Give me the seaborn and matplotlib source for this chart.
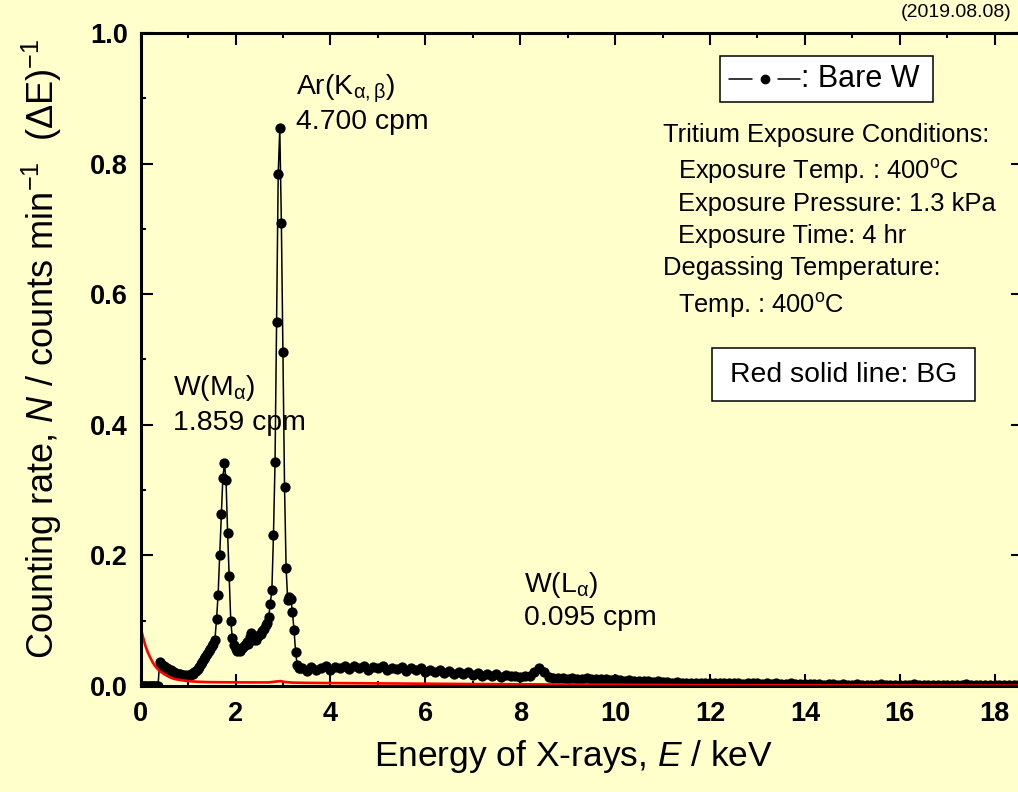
import numpy as np
import pandas as pd
import matplotlib
matplotlib.use("Agg")
import matplotlib.pyplot as plt
from matplotlib.lines import Line2D
from matplotlib.patches import Rectangle
from matplotlib.ticker import MultipleLocator, FormatStrFormatter
import seaborn as sns

# ---- Bare W spectrum: fine channels (1/30 keV) from 0 keV across the W(M) and Ar(K) peaks
low_start_kev = 0.0
low_step_kev = 1.0 / 30.0
low_counts = [
    0, 0, 0, 0, 0, 0, 0, 0, 0, 0, 0, 0,
    0.036, 0.033, 0.031, 0.030, 0.028, 0.027, 0.025, 0.024, 0.022, 0.021,
    0.020, 0.019, 0.018, 0.018, 0.017, 0.017, 0.016, 0.017, 0.016, 0.017,
    0.018, 0.019, 0.021, 0.023, 0.026, 0.029, 0.033, 0.037, 0.041, 0.045,
    0.049, 0.053, 0.057, 0.061, 0.065, 0.071, 0.102, 0.140, 0.201, 0.263,
    0.319, 0.341, 0.316, 0.235, 0.168, 0.100, 0.073, 0.063, 0.057, 0.054,
    0.056, 0.053, 0.058, 0.060, 0.063, 0.068, 0.064, 0.075, 0.081, 0.071,
    0.073, 0.070, 0.076, 0.078, 0.080, 0.084, 0.088, 0.093, 0.097, 0.106,
    0.126, 0.147, 0.231, 0.343, 0.557, 0.784, 0.854, 0.709, 0.511, 0.305,
    0.180, 0.132, 0.136, 0.133, 0.113, 0.086, 0.052, 0.032, 0.028, 0.027,
]

# ---- Bare W spectrum: 0.1 keV channels from 3.4 keV up to the end of the range
tail_start_kev = 3.4
tail_step_kev = 0.1
tail_counts = [
    0.028, 0.023, 0.029, 0.024, 0.027, 0.030,
    0.025, 0.029, 0.027, 0.031, 0.026, 0.030, 0.028, 0.031, 0.025, 0.029,
    0.027, 0.030, 0.024, 0.028, 0.026, 0.029, 0.023, 0.027, 0.025, 0.028,
    0.022, 0.025, 0.021, 0.024, 0.020, 0.023, 0.019, 0.022, 0.018, 0.021,
    0.017, 0.020, 0.016, 0.019, 0.015, 0.018, 0.014, 0.017, 0.015, 0.016,
    0.014, 0.015, 0.016, 0.021, 0.027, 0.021, 0.014, 0.012, 0.013, 0.012,
    0.011, 0.012, 0.011, 0.011, 0.012, 0.010, 0.011, 0.010, 0.010, 0.009,
    0.010, 0.009, 0.008, 0.009, 0.008, 0.007, 0.008, 0.007, 0.006, 0.007,
    0.006, 0.006, 0.005, 0.006, 0.005, 0.005, 0.005, 0.004, 0.005, 0.004,
    0.005, 0.004, 0.004, 0.005, 0.004, 0.004, 0.004, 0.003, 0.004, 0.004,
    0.004, 0.003, 0.004, 0.003, 0.004, 0.003, 0.003, 0.004, 0.003, 0.003,
    0.003, 0.003, 0.003, 0.003, 0.002, 0.003, 0.003, 0.002, 0.003, 0.002,
    0.002, 0.003, 0.002, 0.002, 0.002, 0.002, 0.003, 0.002, 0.002, 0.002,
    0.002, 0.002, 0.002, 0.003, 0.002, 0.002, 0.002, 0.002, 0.002, 0.002,
    0.002, 0.002, 0.002, 0.002, 0.003, 0.002, 0.002, 0.002, 0.002, 0.002,
    0.002, 0.002, 0.002, 0.002, 0.002, 0.002, 0.002,
]

# ---- Background (BG) spectrum
bg_energy_kev = [0.0, 0.05, 0.1, 0.15, 0.2, 0.25, 0.3, 0.35, 0.4, 0.5, 0.6,
                 0.7, 0.8, 0.9, 1.0, 1.2, 1.4, 1.6, 2.0, 2.4, 2.7, 2.85,
                 2.95, 3.05, 3.2, 3.5, 4.0, 5.0, 6.0, 7.0, 8.0, 9.0, 10.0,
                 11.0, 12.0, 13.0, 14.0, 15.0, 16.0, 17.0, 18.0, 18.6]
bg_counts = [0.089, 0.075, 0.062, 0.052, 0.044, 0.037, 0.031, 0.027, 0.023,
             0.018, 0.014, 0.011, 0.0095, 0.0085, 0.0075, 0.0065, 0.006,
             0.0058, 0.0056, 0.0055, 0.0055, 0.0068, 0.0075, 0.006, 0.0052,
             0.0048, 0.0045, 0.004, 0.0035, 0.003, 0.0026, 0.0022, 0.0019,
             0.0016, 0.0013, 0.0011, 0.001, 0.0009, 0.0008, 0.0007, 0.0006,
             0.0005]

# Annotation and axis texts
peak_labels = [
    (3.27, 0.915, r"Ar(K$_{\mathrm{\alpha,\beta}}$)"),
    (3.27, 0.864, "4.700 cpm"),
    (0.69, 0.456, r"W(M$_{\mathrm{\alpha}}$)"),
    (0.69, 0.402, "1.859 cpm"),
    (8.08, 0.155, r"W(L$_{\mathrm{\alpha}}$)"),
    (8.08, 0.104, "0.095 cpm"),
]
condition_lines = [
    (663, 135, "Tritium Exposure Conditions:"),
    (678, 172, r"Exposure Temp. : 400$^{\mathrm{o}}$C"),
    (678, 204, "Exposure Pressure: 1.3 kPa"),
    (678, 236.5, "Exposure Time: 4 hr"),
    (663, 268.5, "Degassing Temperature:"),
    (678, 305, r"Temp. : 400$^{\mathrm{o}}$C"),
]
x_label = r"Energy of X-rays, $\mathit{E}$ / keV"
y_label = r"Counting rate, $\mathit{N}$ / counts min$^{-1}$  (ΔE)$^{-1}$"
date_text = "(2019.08.08)"
sample_text = ": Bare W"
bg_text = "Red solid line: BG"

# ---- Tables for seaborn
low_energy = low_start_kev + low_step_kev * np.arange(len(low_counts))
tail_energy = tail_start_kev + tail_step_kev * np.arange(len(tail_counts))
spec = pd.DataFrame({
    "energy": np.concatenate([low_energy, tail_energy]),
    "counts": np.concatenate([low_counts, tail_counts]),
})
bg = pd.DataFrame({"energy": bg_energy_kev, "counts": bg_counts})

# ---- Style
sns.set_style("ticks")
BG_COLOR = "#FFFFCC"
plt.rcParams["font.family"] = ["Liberation Sans", "DejaVu Sans"]
plt.rcParams["mathtext.fontset"] = "custom"
plt.rcParams["mathtext.rm"] = "Liberation Sans"
plt.rcParams["mathtext.it"] = "Liberation Sans:italic"
plt.rcParams["mathtext.bf"] = "Liberation Sans:bold"
for key in ["text.color", "axes.labelcolor", "xtick.color", "ytick.color",
            "axes.edgecolor"]:
    plt.rcParams[key] = "black"

W, H = 1018, 792
fig = plt.figure(figsize=(W / 100, H / 100), dpi=100, facecolor=BG_COLOR)
x0_px, x1_px, y_top_px, y_bot_px = 140.6, 1023.2, 33.0, 686.0
ax = fig.add_axes([x0_px / W, 1 - y_bot_px / H, (x1_px - x0_px) / W,
                   (y_bot_px - y_top_px) / H])
ax.set_facecolor(BG_COLOR)

sns.lineplot(data=spec, x="energy", y="counts", ax=ax, color="black",
             linewidth=1.1, marker="o", markersize=7.4, markeredgewidth=0,
             estimator=None, sort=False, zorder=2)
sns.lineplot(data=bg, x="energy", y="counts", ax=ax, color="#FF0000",
             linewidth=1.9, estimator=None, sort=False, zorder=3)

ax.set_xlim(0, 18.6)
ax.set_ylim(0, 1.0)
ax.xaxis.set_major_locator(MultipleLocator(2))
ax.xaxis.set_minor_locator(MultipleLocator(1))
ax.yaxis.set_major_locator(MultipleLocator(0.2))
ax.yaxis.set_minor_locator(MultipleLocator(0.1))
ax.yaxis.set_major_formatter(FormatStrFormatter("%.1f"))
ax.tick_params(which="both", direction="in", top=True, right=True,
               width=1.5, color="black", labelcolor="black")
ax.tick_params(which="major", length=8.6)
ax.tick_params(which="minor", length=3.6)
ax.tick_params(axis="x", which="major", pad=11, labelsize=19.5)
ax.tick_params(axis="y", which="major", pad=9, labelsize=19.5)
for lab in ax.get_xticklabels() + ax.get_yticklabels():
    lab.set_fontweight("bold")
for sp in ax.spines.values():
    sp.set_linewidth(2.2)
    sp.set_color("black")
    sp.set_zorder(4)

ax.set_xlabel(x_label, fontsize=25.5, color="black")
ax.set_ylabel(y_label, fontsize=26, color="black")
ax.xaxis.set_label_coords(0.491, -0.080)
ax.yaxis.set_label_coords(-0.087, 0.516)

for ex, ny, txt in peak_labels:
    ax.text(ex, ny, txt, fontsize=20.4, va="center", ha="left", zorder=5,
            color="black")

def fx(px):
    return px / W

def fy(py):
    return 1 - py / H

for px, py, txt in condition_lines:
    fig.text(fx(px), fy(py), txt, fontsize=18.4, va="center", ha="left",
             color="black")

fig.text(fx(1012), fy(12.7), date_text, fontsize=14, va="center", ha="right",
         color="black")

# Sample key box
fig.patches.append(Rectangle((fx(720), fy(101.7)), fx(933.3) - fx(720),
                             fy(56) - fy(101.7), transform=fig.transFigure,
                             facecolor="white", edgecolor="black",
                             linewidth=1.1, zorder=5))
fig.lines.append(Line2D([fx(729), fx(752)], [fy(78.5), fy(78.5)],
                        transform=fig.transFigure, color="black",
                        linewidth=1.1, zorder=6))
fig.lines.append(Line2D([fx(778), fx(800)], [fy(78.5), fy(78.5)],
                        transform=fig.transFigure, color="black",
                        linewidth=1.1, zorder=6))
fig.lines.append(Line2D([fx(765)], [fy(79)], transform=fig.transFigure,
                        color="black", marker="o", markersize=7.0,
                        markeredgewidth=0, zorder=6))
fig.text(fx(801), fy(79), sample_text, fontsize=22, va="center", ha="left",
         zorder=7, color="black")

# Background key box
fig.patches.append(Rectangle((fx(711.7), fy(401)), fx(975) - fx(711.7),
                             fy(348.3) - fy(401), transform=fig.transFigure,
                             facecolor="white", edgecolor="black",
                             linewidth=1.1, zorder=5))
fig.text(fx(843.5), fy(375), bg_text, fontsize=20.4, va="center",
         ha="center", zorder=7, color="black")

fig.savefig("out.png", dpi=100, facecolor=BG_COLOR)
